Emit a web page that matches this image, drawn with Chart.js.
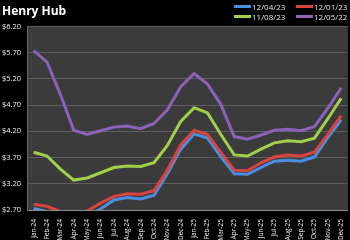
<!DOCTYPE html>
<html>
<head>
<meta charset="utf-8">
<script src="https://cdn.jsdelivr.net/npm/chart.js@4"></script>
<style>
  body { margin: 0; background: #000; }
  #wrap { position: relative; width: 350px; height: 240px; }
  #legend { position: absolute; left: 234px; top: 1px; width: 116px; font: 8px "Open Sans", sans-serif; color: #e6e6e6; }
  .item { position: absolute; display: flex; align-items: center; }
  .item span.sw { display: inline-block; width: 17px; height: 3px; margin-right: 1px; }
</style>
</head>
<body>
<div id="wrap">
  <canvas id="chart" width="350" height="240"></canvas>
  <div id="legend"></div>
</div>
<script>
const months = ["Jan-24", "Feb-24", "Mar-24", "Apr-24", "May-24", "Jun-24", "Jul-24", "Aug-24", "Sep-24", "Oct-24", "Nov-24", "Dec-24",
  "Jan-25", "Feb-25", "Mar-25", "Apr-25", "May-25", "Jun-25", "Jul-25", "Aug-25", "Sep-25", "Oct-25", "Nov-25", "Dec-25"];

const seriesNames = ["12/04/23", "12/01/23", "11/08/23", "12/05/22"];
const seriesColors = ["#4a8fe0", "#d9443f", "#a2d04a", "#8c62b8"];

const dec04_23 = [2.73, 2.67, 2.58, 2.52, 2.57, 2.72, 2.89, 2.94, 2.91, 2.98, 3.39, 3.86, 4.15, 4.07, 3.72, 3.39, 3.38, 3.51, 3.63, 3.65, 3.63, 3.71, 4.08, 4.42];
const dec01_23 = [2.81, 2.77, 2.67, 2.62, 2.68, 2.83, 2.96, 3.01, 3.00, 3.07, 3.46, 3.94, 4.22, 4.14, 3.80, 3.46, 3.45, 3.60, 3.71, 3.75, 3.73, 3.80, 4.14, 4.50];
const nov08_23 = [3.80, 3.73, 3.48, 3.27, 3.31, 3.41, 3.51, 3.54, 3.53, 3.60, 3.93, 4.39, 4.65, 4.55, 4.14, 3.75, 3.73, 3.86, 3.98, 4.02, 4.00, 4.07, 4.44, 4.83];
const dec05_22 = [5.74, 5.52, 4.90, 4.22, 4.14, 4.21, 4.28, 4.30, 4.25, 4.35, 4.61, 5.05, 5.30, 5.10, 4.71, 4.10, 4.05, 4.13, 4.22, 4.24, 4.21, 4.29, 4.64, 5.03];
const allSeries = [dec04_23, dec01_23, nov08_23, dec05_22];

const yMin = 2.70, yMax = 6.20, yStep = 0.5;

// legend, 2 columns
const legend = document.getElementById("legend");
seriesNames.forEach((name, i) => {
  const el = document.createElement("div");
  el.className = "item";
  el.style.left = (i % 2) * 62 + "px";
  el.style.top = Math.floor(i / 2) * 10 + "px";
  el.innerHTML = '<span class="sw" style="background:' + seriesColors[i] + '"></span>' + name;
  legend.appendChild(el);
});

const plotBg = {
  id: "plotBg",
  beforeDraw(chart) {
    const { ctx, chartArea: a } = chart;
    ctx.save();
    ctx.fillStyle = "#000";
    ctx.fillRect(0, 0, chart.width, chart.height);
    ctx.fillStyle = "#3b3b3b";
    ctx.fillRect(a.left, a.top, a.right - a.left, a.bottom - a.top);
    ctx.restore();
  }
};

new Chart(document.getElementById("chart"), {
  type: "line",
  data: {
    labels: months,
    datasets: allSeries.map((d, i) => ({
      label: seriesNames[i],
      data: d,
      borderColor: seriesColors[i],
      borderWidth: 3,
      pointRadius: 0,
      tension: 0,
      order: 3 - i
    }))
  },
  options: {
    responsive: false,
    animation: false,
    layout: { padding: { left: 2, right: 0, top: 0, bottom: 0 } },
    plugins: {
      legend: { display: false },
      tooltip: { enabled: false },
      title: {
        display: true,
        text: "Henry Hub",
        align: "start",
        color: "#fff",
        font: { family: "Open Sans", size: 12, weight: "bold" },
        padding: { top: 4, bottom: 8 }
      }
    },
    scales: {
      x: {
        offset: true,
        grid: { display: false },
        border: { color: "#8a8a8a", width: 1 },
        ticks: {
          color: "#eee",
          autoSkip: false,
          maxRotation: 90,
          minRotation: 90,
          padding: 1,
          font: { family: "Open Sans", size: 6.5 }
        },
        afterFit(s) { s.height = 30; }
      },
      y: {
        min: yMin,
        max: yMax,
        grid: { color: "#5e5e5e", lineWidth: 1, drawTicks: false },
        border: { color: "#6a6a6a" },
        ticks: {
          stepSize: yStep,
          color: "#eee",
          crossAlign: "far",
          padding: 3,
          font: { family: "Open Sans", size: 7.5 },
          callback: v => "$" + v.toFixed(2)
        },
        afterFit(s) { s.width = 25; }
      }
    }
  },
  plugins: [plotBg]
});
</script>
</body>
</html>
